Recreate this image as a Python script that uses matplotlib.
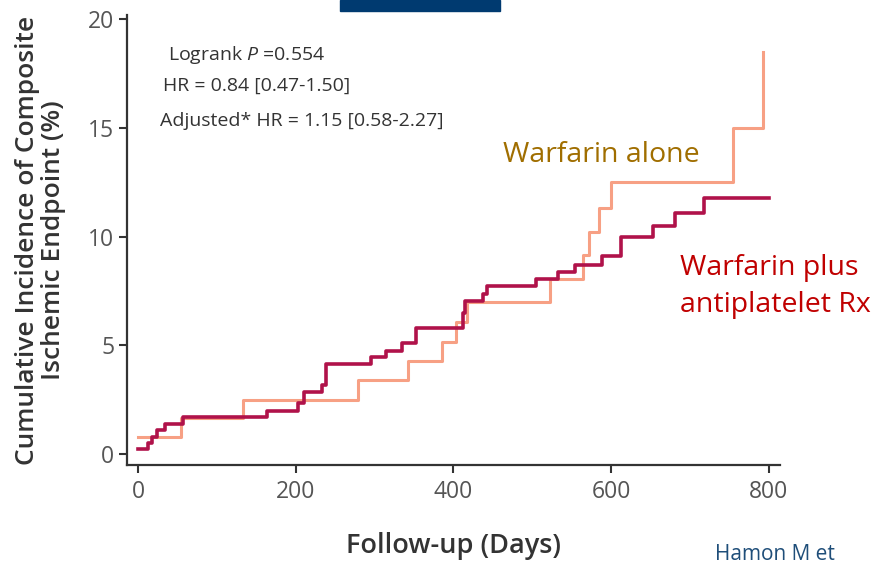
"""
Cumulative incidence of composite ischemic endpoint: warfarin alone vs warfarin plus antiplatelet.
"""

import matplotlib
matplotlib.use("Agg")
import matplotlib.pyplot as plt
from matplotlib.patches import Rectangle

plt.rcParams["font.family"] = ["Open Sans", "DejaVu Sans"]
plt.rcParams["mathtext.fontset"] = "custom"
plt.rcParams["mathtext.it"] = "Open Sans:italic"
plt.rcParams["mathtext.rm"] = "Open Sans"

# Warfarin alone (step times in days, cumulative incidence in %)
alone_days = [0, 55, 133, 279, 342, 385, 403, 417, 522, 564, 572, 585, 600, 755, 793]
alone_inc = [0.8, 1.65, 2.5, 3.4, 4.3, 5.15, 6.1, 7.0, 8.05, 9.15, 10.2, 11.3, 12.5, 15.0, 18.5]

# Warfarin plus antiplatelet Rx
plus_days = [0, 13, 18, 24, 34, 57, 163, 203, 210, 233, 239, 296, 315, 335, 353,
             412, 415, 437, 442, 505, 532, 554, 588, 613, 653, 681, 718, 800]
plus_inc = [0.23, 0.5, 0.8, 1.1, 1.4, 1.7, 2.0, 2.35, 2.85, 3.2, 4.15, 4.45, 4.75, 5.1, 5.8,
            6.5, 7.05, 7.35, 7.75, 8.05, 8.4, 8.7, 9.1, 10.0, 10.5, 11.1, 11.8, 11.8]

x_ticks = [0, 200, 400, 600, 800]
y_ticks = [0, 5, 10, 15, 20]

stats_lines = [
    "Logrank $\\mathit{P}$ =0.554",
    "HR = 0.84 [0.47-1.50]",
    "Adjusted* HR = 1.15 [0.58-2.27]",
]

AXIS_COLOR = "#333333"
TICK_COLOR = "#555555"

fig = plt.figure(figsize=(8.77, 5.66), dpi=100)
ax = fig.add_axes([0.1448, 0.1784, 0.7445, 0.7951])

ax.step(alone_days, alone_inc, where="post", color="#f7a084", lw=2.2, zorder=2)
ax.step(plus_days, plus_inc, where="post", color="#b0124a", lw=2.6, zorder=3)

ax.set_xlim(-14, 814)
ax.set_ylim(-0.5, 20.2)
ax.set_xticks(x_ticks)
ax.set_yticks(y_ticks)

for side in ["top", "right"]:
    ax.spines[side].set_visible(False)
for side in ["left", "bottom"]:
    ax.spines[side].set_color(AXIS_COLOR)
    ax.spines[side].set_linewidth(1.6)

ax.tick_params(direction="out", length=6, width=1.5, color=AXIS_COLOR,
               labelsize=16.5, labelcolor=TICK_COLOR)
ax.tick_params(axis="x", pad=5)
ax.tick_params(axis="y", pad=3)

ax.set_xlabel("Follow-up (Days)", fontsize=19.5, fontweight="semibold",
              color=AXIS_COLOR, labelpad=20)
ax.set_ylabel("Cumulative Incidence of Composite\nIschemic Endpoint (%)",
              fontsize=19, fontweight="semibold", color=AXIS_COLOR,
              labelpad=16, linespacing=1.05)

# statistics block
stats_pos = [(38, 18.15), (32, 16.7), (28, 15.1)]
for (sx, sy), line in zip(stats_pos, stats_lines):
    ax.text(sx, sy, line, fontsize=14, color="#333333", va="baseline")

# group labels
ax.text(463, 13.45, "Warfarin alone", fontsize=20.5, color="#a06e00", va="baseline")
ax.text(687, 8.25, "Warfarin plus", fontsize=20.5, color="#c00000", va="baseline")
ax.text(687, 6.55, "antiplatelet Rx", fontsize=20.5, color="#c00000", va="baseline")

# slide decoration: top bar and citation at the bottom
fig.patches.append(Rectangle((0.3877, 0.9806), 0.1824, 0.0194,
                             transform=fig.transFigure, color="#003a70", zorder=5))
fig.text(715 / 877, 0.002, "Hamon M et", fontsize=15, color="#1f4e79", va="bottom")

fig.savefig("out.png", dpi=100)
